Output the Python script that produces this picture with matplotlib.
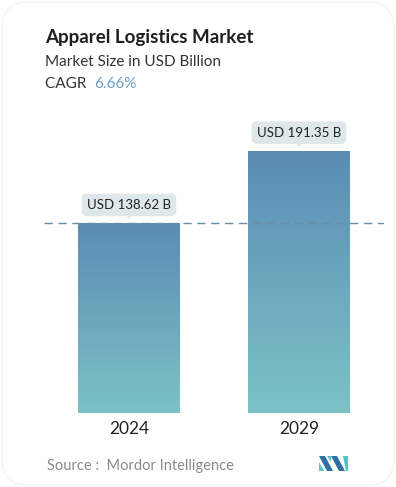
import matplotlib.pyplot as plt
import numpy as np
from matplotlib.patches import FancyBboxPatch, Polygon
from matplotlib.colors import LinearSegmentedColormap

plt.rcParams['font.family'] = ['Lato', 'DejaVu Sans']

# data
years = ['2024', '2029']
values = [138.62, 191.35]
labels = ['USD 138.62 B', 'USD 191.35 B']
cagr = '6.66%'

W, H = 396, 487
fig = plt.figure(figsize=(W / 100, H / 100), dpi=100)
fig.patch.set_facecolor('white')

# card border (faint)
card = FancyBboxPatch((2 / W, 2 / H), 1 - 4 / W, 1 - 4 / H,
                      boxstyle="round,pad=0,rounding_size=0.06",
                      transform=fig.transFigure, facecolor='none',
                      edgecolor='#f5f5f5', linewidth=1)
fig.patches.append(card)

# axes placement in pixels
left, right, bottom, top = 44, 384, 413, 110
ax = fig.add_axes([left / W, (H - bottom) / H, (right - left) / W, (bottom - top) / H])
ax.axis('off')

cmap = LinearSegmentedColormap.from_list('bar', ['#7cc2c6', '#5b8cb5'])
x = np.arange(len(years))
bars = ax.bar(x, values, width=0.6, color='#6aa5bd', zorder=2)
grad = np.linspace(0, 1, 256).reshape(-1, 1)
for b in bars:
    bx = b.get_x()
    im = ax.imshow(grad, cmap=cmap, origin='lower', aspect='auto',
                   extent=[bx, bx + b.get_width(), 0, b.get_height()], zorder=3)
    im.set_clip_path(b)
ax.set_xlim(-0.5, 1.5)
ax.set_ylim(0, 221)

# dashed reference line at first value
ax.axhline(values[0], color='#6a8ea3', linewidth=1, dashes=(6, 4), zorder=4)

# value labels
box_color = '#dde7ec'
px = 221 / (bottom - top)  # data units per pixel
for xi, v, lab in zip(x, values, labels):
    ax.text(xi, v + 18 * px, lab, ha='center', va='center', fontsize=9.5,
            color='#222222', zorder=5,
            bbox=dict(boxstyle='round,pad=0.4,rounding_size=0.4',
                      facecolor=box_color, edgecolor='none'))
    ax.plot(xi, v + 7 * px, marker='v', markersize=6, color=box_color,
            markeredgewidth=0, zorder=5)

# year labels
for xi, yr in zip(x, years):
    ax.text(xi, -16 * px, yr, ha='center', va='center', fontsize=12.5,
            color='#222222')

# titles
fig.text(45 / W, 1 - 37 / H, 'Apparel Logistics Market', fontsize=13.5,
         fontweight='bold', color='#1f1f1f', va='center', ha='left')
fig.text(45 / W, 1 - 62 / H, 'Market Size in USD Billion', fontsize=11,
         color='#333333', va='center', ha='left')
fig.text(45 / W, 1 - 84 / H, 'CAGR ', fontsize=11, color='#333333',
         va='center', ha='left')
fig.text(94 / W, 1 - 84 / H, cagr, fontsize=11, color='#6b9cc4',
         va='center', ha='left')

# source
fig.text(47 / W, 1 - 466 / H, 'Source :  Mordor Intelligence', fontsize=10.5,
         color='#8a8a8a', va='center', ha='left')

# logo
def poly(pts, c):
    p = Polygon([(a / W, 1 - b / H) for a, b in pts], closed=True,
                transform=fig.transFigure, facecolor=c, edgecolor='none')
    fig.patches.append(p)

poly([(319, 456), (325, 456), (333, 471), (327, 471)], '#2f6fa3')
poly([(319, 462), (324, 471), (319, 471)], '#4fc4cb')
poly([(331, 456), (337, 456), (345, 471), (339, 471)], '#2f6fa3')
poly([(327, 456), (331, 456), (331, 462)], '#4fc4cb')
poly([(343, 456), (348, 456), (348, 471), (346, 471)], '#4fc4cb')

fig.savefig('out.png', dpi=100, facecolor='white')
